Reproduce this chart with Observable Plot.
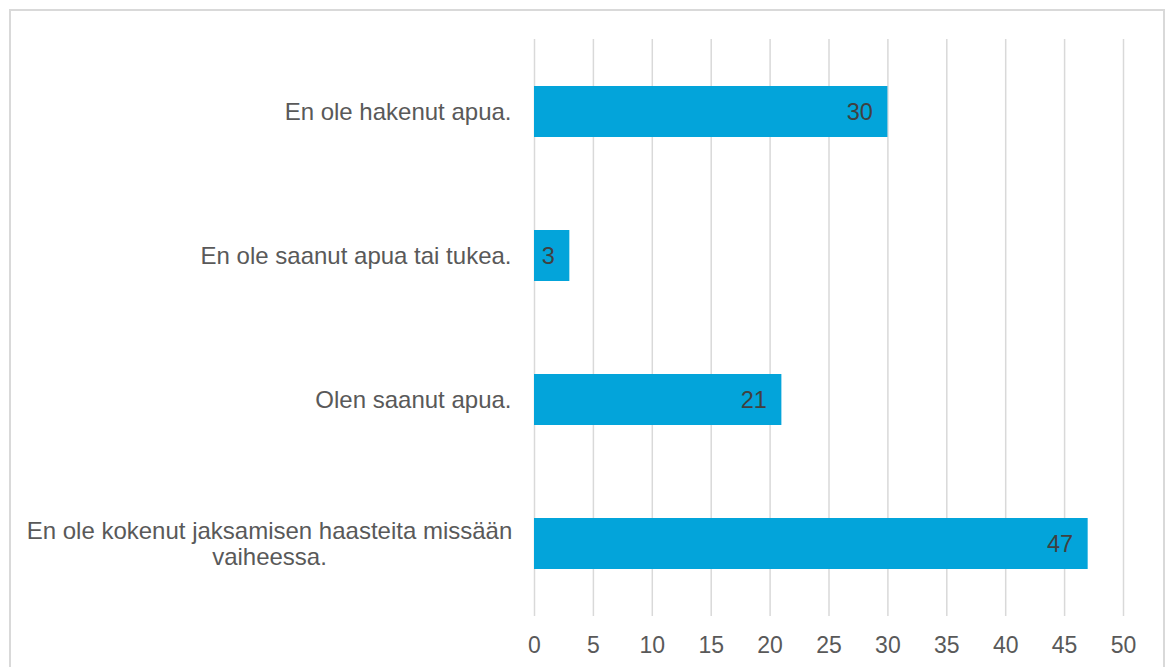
<!DOCTYPE html>
<html><head><meta charset="utf-8">
<script src="https://cdn.jsdelivr.net/npm/d3@7"></script>
<script src="https://cdn.jsdelivr.net/npm/@observablehq/plot@0.6"></script>
<style>
body{margin:0;background:#fff;}
#wrap{position:relative;width:1168px;height:667px;overflow:hidden;background:#fff;}
#border{position:absolute;left:9px;top:9px;width:1156px;height:720px;border:2px solid #d9d9d9;box-sizing:border-box;pointer-events:none;}
</style></head><body><div id="wrap"><div id="chart"></div><div id="border"></div></div>
<script>
const categories = [
  "En ole hakenut apua.",
  "En ole saanut apua tai tukea.",
  "Olen saanut apua.",
  "En ole kokenut jaksamisen haasteita missään\nvaiheessa."
];
const values = [30, 3, 21, 47];
const xTicks = [0, 5, 10, 15, 20, 25, 30, 35, 40, 45, 50];

const data = categories.map((c, i) => ({category: c, value: values[i]}));
const single = categories.filter(c => !c.includes("\n"));
const multi = categories.filter(c => c.includes("\n"));
const font = "'Liberation Sans', Arial, sans-serif";

const chart = Plot.plot({
  width: 1168, height: 667,
  marginLeft: 534, marginRight: 45, marginTop: 39, marginBottom: 51,
  style: {fontFamily: font, background: "white"},
  x: {domain: [0, 50], label: null, axis: null},
  y: {domain: categories, paddingInner: 0.646, paddingOuter: 0.323, axis: null},
  marks: [
    Plot.ruleX(xTicks, {stroke: "#d9d9d9", strokeWidth: 1.5}),
    Plot.text(xTicks, {x: d => d, text: d => String(d), frameAnchor: "bottom", lineAnchor: "top", dy: 20, fontSize: 23, fill: "#595959"}),
    Plot.barX(data, {x: "value", y: "category", fill: "#03A4DA"}),
    Plot.text(data, {x: "value", y: "category", text: d => String(d.value), textAnchor: "end", dx: -15, fontSize: 23.5, fill: "#404040"}),
    Plot.text(single, {y: d => d, text: d => d, frameAnchor: "left", textAnchor: "end", dx: -23, fontSize: 24, fill: "#595959"}),
    Plot.text(multi, {y: d => d, text: d => d, frameAnchor: "left", textAnchor: "middle", dx: -265, fontSize: 24, lineHeight: 1.08, fill: "#595959"})
  ]
});
document.getElementById("chart").append(chart);
</script>
</body></html>
